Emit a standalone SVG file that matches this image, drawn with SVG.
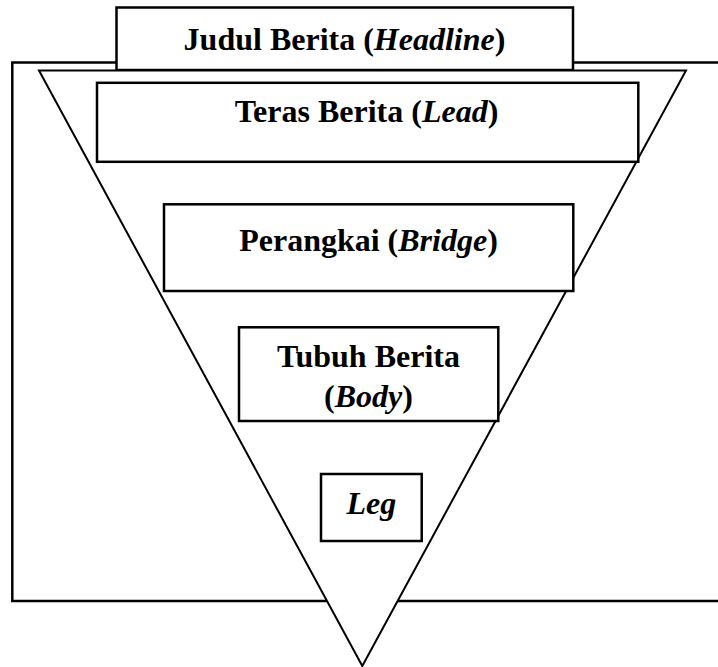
<svg xmlns="http://www.w3.org/2000/svg" width="718" height="667" viewBox="0 0 718 667">
<style>
  .frame { fill: #fff; stroke: #000; stroke-width: 2.5; }
  .tri { fill: #fff; stroke: #000; stroke-width: 2; stroke-linejoin: miter; }
  .box { fill: #fff; stroke: #000; stroke-width: 2.5; }
  .lbl { font-family: "Liberation Serif", "Times New Roman", serif; font-weight: bold; font-size: 32px; fill: #000; text-anchor: middle; }
  .it { font-style: italic; }
</style>
<rect width="718" height="667" fill="#fff"/>
<g id="frame">
  <rect class="frame" x="12.3" y="62.5" width="720" height="538.5"/>
</g>
<g id="headline">
  <rect class="box" x="116.5" y="7.5" width="456.5" height="62.5"/>
  <text class="lbl" x="344.5" y="50">Judul Berita (<tspan class="it">Headline</tspan>)</text>
</g>
<g id="pyramid">
  <polygon class="tri" points="39,70.5 686,70.5 362.3,666"/>
</g>
<g id="lead">
  <rect class="box" x="97" y="82.8" width="541.3" height="79"/>
  <text class="lbl" x="366.5" y="121.7">Teras Berita (<tspan class="it">Lead</tspan>)</text>
</g>
<g id="bridge">
  <rect class="box" x="164" y="204.3" width="409.3" height="86.7"/>
  <text class="lbl" x="368.5" y="250.5">Perangkai (<tspan class="it">Bridge</tspan>)</text>
</g>
<g id="body">
  <rect class="box" x="239" y="327.3" width="259.3" height="93.7"/>
  <text class="lbl" x="368.5" y="367.3">Tubuh Berita</text>
  <text class="lbl" x="368.5" y="406.5">(<tspan class="it">Body</tspan>)</text>
</g>
<g id="leg">
  <rect class="box" x="321" y="474" width="100.7" height="67"/>
  <text class="lbl it" x="371.3" y="514">Leg</text>
</g>
</svg>
